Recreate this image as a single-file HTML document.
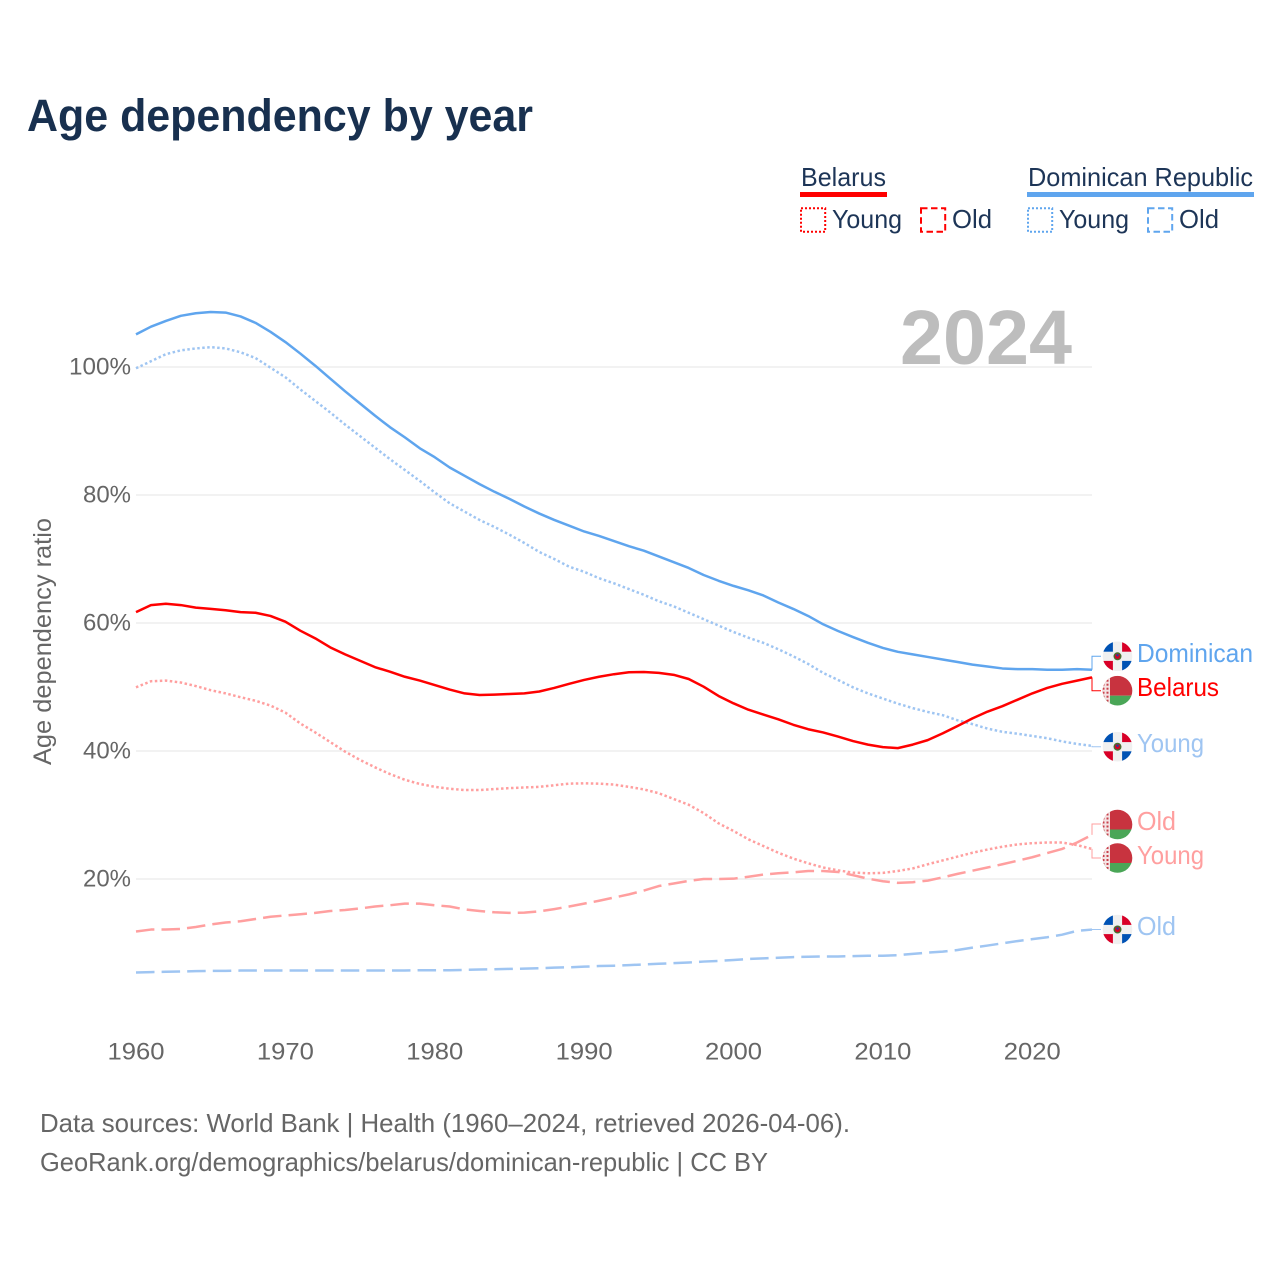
<!DOCTYPE html>
<html lang="en">
<head>
<meta charset="utf-8">
<title>Age dependency by year</title>
<style>
html,body{margin:0;padding:0;background:#fff;}
svg{display:block;font-family:"Liberation Sans",sans-serif;}
</style>
</head>
<body>
<svg id="chart" xmlns="http://www.w3.org/2000/svg" width="1280" height="1280" viewBox="0 0 1280 1280">
  <defs>
    <clipPath id="flag-clip"><circle cx="0" cy="0" r="14.8"/></clipPath>
    <pattern id="by-ornament" width="4" height="4" patternUnits="userSpaceOnUse">
      <rect width="4" height="4" fill="#f4e4e4"/>
      <rect x="1" y="1" width="2" height="2" fill="#c8414d"/>
    </pattern>
    <g id="flag-dr">
      <g clip-path="url(#flag-clip)">
        <rect x="-15" y="-15" width="30" height="30" fill="#f0f0f0"/>
        <rect x="-15" y="-15" width="10.4" height="10.4" fill="#0052b4"/>
        <rect x="4.6" y="-15" width="10.4" height="10.4" fill="#d80027"/>
        <rect x="-15" y="4.6" width="10.4" height="10.4" fill="#d80027"/>
        <rect x="4.6" y="4.6" width="10.4" height="10.4" fill="#0052b4"/>
        <circle r="4" fill="#496e2d"/>
        <circle r="2.6" fill="#d80027"/>
        <rect x="-1" y="-2" width="2" height="2" fill="#0052b4"/>
      </g>
    </g>
    <g id="flag-by">
      <g clip-path="url(#flag-clip)">
        <rect x="-15" y="-15" width="30" height="20" fill="#c8333f"/>
        <rect x="-15" y="5" width="30" height="10" fill="#4aa657"/>
        <rect x="-15" y="-15" width="7.5" height="30" fill="url(#by-ornament)"/>
      </g>
    </g>
  </defs>

  <text x="27" y="131" font-size="45" font-weight="700" fill="#18304f" textLength="506" lengthAdjust="spacingAndGlyphs">Age dependency by year</text>

  <g font-size="26" fill="#1d3557">
    <text x="801" y="186" textLength="85" lengthAdjust="spacingAndGlyphs">Belarus</text>
    <rect x="800" y="192" width="87" height="5" fill="#ff0000"/>
    <rect x="801" y="208.2" width="24.2" height="23.6" fill="none" stroke="#ff0000" stroke-width="2" stroke-dasharray="2 2"/>
    <text x="832" y="228" textLength="70" lengthAdjust="spacingAndGlyphs">Young</text>
    <rect x="921" y="208.2" width="24.2" height="23.6" fill="none" stroke="#ff0000" stroke-width="2" stroke-dasharray="6.5 3.5"/>
    <text x="952" y="228" textLength="40" lengthAdjust="spacingAndGlyphs">Old</text>

    <text x="1028" y="186" textLength="225" lengthAdjust="spacingAndGlyphs">Dominican Republic</text>
    <rect x="1027" y="192" width="227" height="5" fill="#5fa5ee"/>
    <rect x="1028" y="208.2" width="24.2" height="23.6" fill="none" stroke="#5fa5ee" stroke-width="2" stroke-dasharray="2 2"/>
    <text x="1059" y="228" textLength="70" lengthAdjust="spacingAndGlyphs">Young</text>
    <rect x="1148" y="208.2" width="24.2" height="23.6" fill="none" stroke="#5fa5ee" stroke-width="2" stroke-dasharray="6.5 3.5"/>
    <text x="1179" y="228" textLength="40" lengthAdjust="spacingAndGlyphs">Old</text>
  </g>

  <g id="grid"></g>
  <g id="y-ticks" font-size="24" fill="#666666" text-anchor="end"></g>
  <g id="x-ticks" font-size="24" fill="#666666" text-anchor="middle"></g>

  <text transform="translate(51,765) rotate(-90)" font-size="25" fill="#666666" textLength="247" lengthAdjust="spacingAndGlyphs">Age dependency ratio</text>

  <text x="900" y="364" font-size="77" font-weight="700" fill="#bdbdbd" textLength="172" lengthAdjust="spacingAndGlyphs">2024</text>

  <g id="series"></g>

  <g font-size="26">
    <use href="#flag-dr" transform="translate(1117.5,656.3)"/>
    <text x="1137" y="662" fill="#5fa5ee" textLength="116" lengthAdjust="spacingAndGlyphs">Dominican</text>
    <use href="#flag-by" transform="translate(1117.5,690.7)"/>
    <text x="1137" y="696" fill="#ff0000" textLength="82" lengthAdjust="spacingAndGlyphs">Belarus</text>
    <use href="#flag-dr" transform="translate(1117.5,746.7)"/>
    <text x="1137" y="752" fill="#9fc5f2" textLength="67" lengthAdjust="spacingAndGlyphs">Young</text>
    <use href="#flag-by" transform="translate(1117.5,824.5)"/>
    <text x="1137" y="830" fill="#ff9f9f" textLength="39" lengthAdjust="spacingAndGlyphs">Old</text>
    <use href="#flag-by" transform="translate(1117.5,858)"/>
    <text x="1137" y="864" fill="#ff9f9f" textLength="67" lengthAdjust="spacingAndGlyphs">Young</text>
    <use href="#flag-dr" transform="translate(1117.5,929.5)"/>
    <text x="1137" y="935" fill="#9fc5f2" textLength="39" lengthAdjust="spacingAndGlyphs">Old</text>
  </g>

  <g font-size="26" fill="#666666">
    <text x="40" y="1132" textLength="810" lengthAdjust="spacingAndGlyphs">Data sources: World Bank | Health (1960–2024, retrieved 2026-04-06).</text>
    <text x="40" y="1171" textLength="728" lengthAdjust="spacingAndGlyphs">GeoRank.org/demographics/belarus/dominican-republic | CC BY</text>
  </g>
</svg>

<script>
var startYear = 1960;
var xTickYears = [1960, 1970, 1980, 1990, 2000, 2010, 2020];
var yTickValues = [20, 40, 60, 80, 100];
var yTickLabels = ["20%", "40%", "60%", "80%", "100%"];

var dominicanTotal = [
  105.1,106.3,107.2,108.0,108.4,108.6,108.5,107.9,106.9,105.5,
  103.9,102.1,100.2,98.2,96.2,94.3,92.4,90.6,89.0,87.3,
  85.9,84.3,83.0,81.7,80.5,79.4,78.2,77.1,76.1,75.2,
  74.3,73.6,72.8,72.0,71.3,70.4,69.5,68.6,67.5,66.6,
  65.8,65.1,64.3,63.2,62.2,61.1,59.8,58.75,57.8,56.9,
  56.1,55.5,55.1,54.7,54.3,53.9,53.5,53.2,52.9,52.8,
  52.8,52.7,52.7,52.8,52.7
];
var dominicanYoung = [
  99.8,100.9,102.0,102.6,102.9,103.1,102.9,102.3,101.4,99.9,
  98.4,96.5,94.7,92.9,91.0,89.2,87.4,85.6,83.9,82.2,
  80.4,78.7,77.4,76.1,75.0,73.8,72.5,71.1,70.0,68.8,
  68.0,67.0,66.2,65.3,64.4,63.4,62.6,61.6,60.6,59.6,
  58.6,57.7,56.9,55.9,54.8,53.6,52.2,51.1,49.95,49.0,
  48.2,47.4,46.7,46.1,45.6,44.8,44.2,43.5,43.0,42.7,
  42.35,42.0,41.5,41.1,40.8
];
var dominicanOld = [
  5.4,5.45,5.5,5.55,5.6,5.65,5.65,5.7,5.7,5.7,
  5.7,5.7,5.7,5.7,5.7,5.7,5.7,5.7,5.7,5.75,
  5.75,5.75,5.8,5.85,5.9,5.95,6.0,6.05,6.15,6.2,
  6.3,6.4,6.45,6.55,6.65,6.75,6.85,6.95,7.1,7.2,
  7.35,7.5,7.6,7.7,7.8,7.85,7.9,7.9,7.95,8.0,
  8.0,8.1,8.3,8.5,8.65,8.9,9.27,9.6,9.95,10.3,
  10.6,10.9,11.3,11.9,12.1
];
var belarusTotal = [
  61.7,62.8,63.0,62.8,62.4,62.2,62.0,61.7,61.6,61.1,
  60.2,58.8,57.6,56.2,55.1,54.1,53.1,52.4,51.6,51.0,
  50.3,49.6,49.0,48.75,48.8,48.9,49.0,49.3,49.85,50.5,
  51.1,51.6,52.0,52.3,52.35,52.2,51.9,51.25,50.05,48.6,
  47.45,46.45,45.7,44.95,44.1,43.4,42.9,42.25,41.55,41.0,
  40.6,40.45,41.0,41.7,42.75,43.9,45.1,46.15,47.0,48.0,
  49.0,49.85,50.5,51.0,51.5
];
var belarusYoung = [
  49.95,50.9,51.0,50.7,50.15,49.5,49.0,48.4,47.85,47.1,
  46.0,44.3,42.9,41.4,39.9,38.6,37.45,36.4,35.5,34.85,
  34.4,34.1,33.9,33.9,34.05,34.2,34.3,34.4,34.65,34.9,
  34.95,34.9,34.75,34.4,34.0,33.4,32.5,31.6,30.3,28.7,
  27.5,26.2,25.15,24.1,23.2,22.45,21.8,21.35,21.0,20.9,
  20.95,21.25,21.65,22.3,22.9,23.5,24.1,24.6,25.05,25.4,
  25.6,25.7,25.7,25.3,24.7
];
var belarusOld = [
  11.8,12.1,12.1,12.2,12.5,12.9,13.2,13.4,13.75,14.1,
  14.3,14.5,14.7,15.0,15.15,15.4,15.7,15.9,16.15,16.15,
  15.9,15.7,15.25,15.0,14.8,14.7,14.75,14.95,15.3,15.7,
  16.15,16.6,17.1,17.6,18.2,18.9,19.3,19.7,20.0,20.0,
  20.05,20.35,20.7,20.9,21.05,21.25,21.25,21.1,20.6,20.05,
  19.65,19.4,19.5,19.75,20.25,20.8,21.3,21.8,22.3,22.85,
  23.4,24.05,24.7,25.7,26.9
];

var SVG_NS = "http://www.w3.org/2000/svg";
function xScale(year) { return 136 + (year - 1960) * (1092 - 136) / 64; }
function yScale(value) { return 1007 - 6.4 * value; }

var gridGroup = document.getElementById("grid");
var yTickGroup = document.getElementById("y-ticks");
var xTickGroup = document.getElementById("x-ticks");
var seriesGroup = document.getElementById("series");

yTickValues.forEach(function (v, i) {
  var line = document.createElementNS(SVG_NS, "line");
  
  
  line.setAttribute("x1", xScale(1960));
  line.setAttribute("x2", xScale(2024));
  line.setAttribute("y1", yScale(v));
  line.setAttribute("y2", yScale(v));
  line.setAttribute("stroke", "#eeeeee");
  line.setAttribute("stroke-width", "1.6");
  gridGroup.appendChild(line);

  var label = document.createElementNS(SVG_NS, "text");
  
  
  label.setAttribute("x", 131);
  label.setAttribute("y", yScale(v) + 7.5);
  label.setAttribute("textLength", yTickLabels[i].length === 4 ? 62 : 48);
  label.setAttribute("lengthAdjust", "spacingAndGlyphs");
  label.textContent = yTickLabels[i];
  yTickGroup.appendChild(label);
});

xTickYears.forEach(function (year) {
  var label = document.createElementNS(SVG_NS, "text");
  
  
  label.setAttribute("x", xScale(year));
  label.setAttribute("y", 1059.5);
  label.setAttribute("textLength", 57);
  label.setAttribute("lengthAdjust", "spacingAndGlyphs");
  label.textContent = String(year);
  xTickGroup.appendChild(label);
});

function drawSeries(name, values, color, dash, labelY) {
  var d = values.map(function (v, i) {
    return (i ? "L" : "M") + xScale(startYear + i).toFixed(2) + " " + yScale(v).toFixed(2);
  }).join("");
  var path = document.createElementNS(SVG_NS, "path");
  
  
  path.setAttribute("d", d);
  path.setAttribute("fill", "none");
  path.setAttribute("stroke", color);
  path.setAttribute("stroke-width", "2.5");
  path.setAttribute("stroke-linejoin", "round");
  if (dash) path.setAttribute("stroke-dasharray", dash);
  seriesGroup.appendChild(path);

  var endX = xScale(startYear + values.length - 1);
  var endY = yScale(values[values.length - 1]);
  var connector = document.createElementNS(SVG_NS, "path");
  
  
  connector.setAttribute("d", "M" + endX + " " + endY + "V" + labelY + "H" + (endX + 9));
  connector.setAttribute("fill", "none");
  connector.setAttribute("stroke", color);
  connector.setAttribute("stroke-width", "1");
  seriesGroup.appendChild(connector);
}

var dotted = "2.5 2.5";
var dashed = "18.5 7.1";
drawSeries("line-dominican-old", dominicanOld, "#9fc5f2", dashed, 929.5);
drawSeries("line-dominican-young", dominicanYoung, "#9fc5f2", dotted, 746.7);
drawSeries("line-dominican-total", dominicanTotal, "#5fa5ee", null, 656.3);
drawSeries("line-belarus-old", belarusOld, "#ff9f9f", dashed, 824);
drawSeries("line-belarus-young", belarusYoung, "#ff9f9f", dotted, 858);
drawSeries("line-belarus-total", belarusTotal, "#ff0000", null, 690.7);
</script>
</body>
</html>
